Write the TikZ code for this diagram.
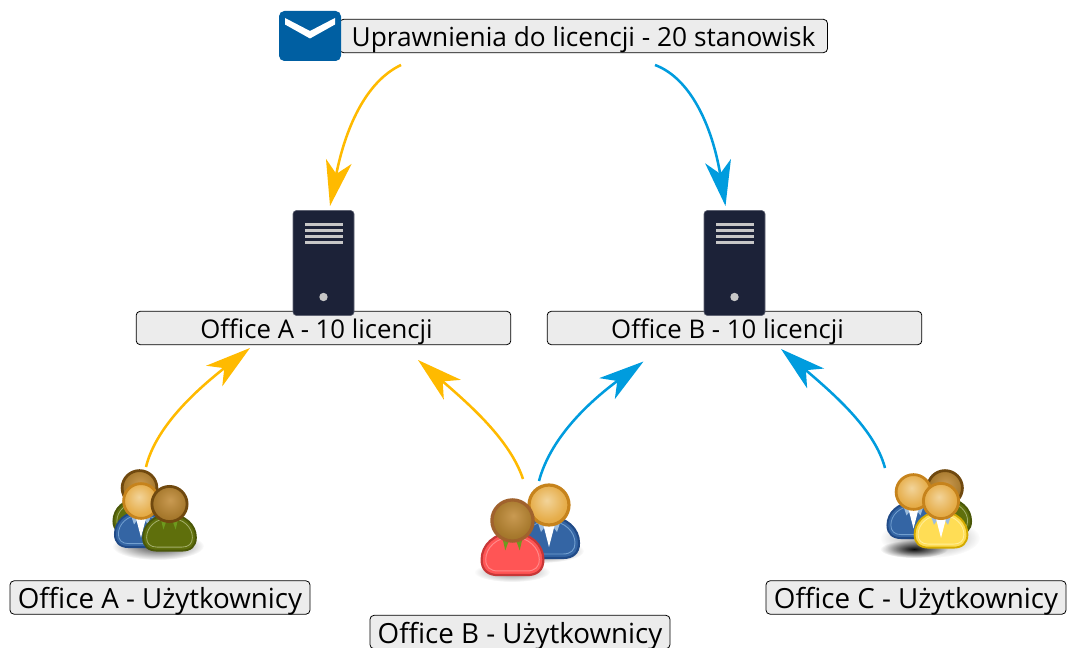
\documentclass[tikz,border=0pt]{standalone}
\usepackage{fontspec}
\setmainfont{Open Sans}
\usetikzlibrary{arrows.meta,fadings}
\definecolor{boxfill}{HTML}{ECECEC}
\definecolor{ayellow}{HTML}{FFBA00}
\definecolor{ablue}{HTML}{009CDE}
\definecolor{srv}{HTML}{1C2238}
\definecolor{mail}{HTML}{005FA2}
\definecolor{bluF}{HTML}{3465A4}\definecolor{bluD}{HTML}{204A87}\definecolor{bluL}{HTML}{729FCF}
\definecolor{oliF}{HTML}{5F6F0C}\definecolor{oliD}{HTML}{4A5708}\definecolor{oliL}{HTML}{A3AE6A}
\definecolor{redF}{HTML}{FF5555}\definecolor{redD}{HTML}{C83737}\definecolor{redL}{HTML}{FF8A8A}
\definecolor{yelF}{HTML}{FFDD55}\definecolor{yelD}{HTML}{D4AA00}\definecolor{yelL}{HTML}{FFEE99}
\definecolor{hoL}{HTML}{F2D49A}\definecolor{hoM}{HTML}{E6AE4C}\definecolor{hoD}{HTML}{D8941F}\definecolor{hoE}{HTML}{C6831C}
\definecolor{hbL}{HTML}{C99A52}\definecolor{hbM}{HTML}{A87A2E}\definecolor{hbD}{HTML}{80581A}\definecolor{hbE}{HTML}{70490F}
\definecolor{hrE}{HTML}{A0622D}
\definecolor{tipG}{HTML}{6E9A1E}
\pgfdeclareradialshading{headO}{\pgfpoint{-3bp}{6bp}}{color(0bp)=(hoL);color(22bp)=(hoM);color(50bp)=(hoD);color(60bp)=(hoD)}
\pgfdeclareradialshading{headB}{\pgfpoint{1bp}{6bp}}{color(0bp)=(hbL);color(22bp)=(hbM);color(50bp)=(hbD);color(60bp)=(hbD)}
\tikzfading[name=shfade,inner color=transparent!0,outer color=transparent!100]
\tikzset{
  x=0.75pt,y=-0.75pt,
  lab/.style={draw=black,line width=0.6pt,fill=boxfill,rounded corners=3pt,minimum height=25pt,inner sep=0pt,text height=20.5pt,text depth=4pt,anchor=center},
  fsmall/.style={font=\fontsize{19.3pt}{22pt}\selectfont},
  ftop/.style={font=\fontsize{19.7pt}{22pt}\selectfont},
  fuser/.style={font=\fontsize{20.8pt}{22pt}\selectfont},
  yl/.style={draw=ayellow,line width=1.9pt,-{Stealth[length=34pt,width=19.5pt,inset=9.5pt]}},
  bl/.style={draw=ablue,line width=1.9pt,-{Stealth[length=34pt,width=19.5pt,inset=9.5pt]}},
  srvbox/.style={fill=srv,draw=srv!70!white,line width=0.4pt,rounded corners=2.5pt},
  slat/.style={fill=black!22!white,draw=none},
  envbox/.style={fill=mail,rounded corners=4pt,draw=none},
  shad/.style={fill=black,path fading=shfade,opacity=#1},
}
\newcommand{\collarW}{%
  \path[fill=bluL!70!white] (-12,15) -- (-8,27) -- (0,16) -- (8,27) -- (12,15) -- cycle;
  \path[fill=white] (-7,15) -- (0,42) -- (7,15) -- cycle;}
\newcommand{\collarG}{%
  \path[fill=tipG] (-10,16) -- (-7,29) -- (-3,18) -- cycle;
  \path[fill=tipG] (10,16) -- (7,29) -- (3,18) -- cycle;}
% \person{x}{y}{scale}{fill}{dark}{light}{headshade}{headdraw}{collar}
\newcommand{\person}[9]{%
  \begin{scope}[shift={(#1,#2)},x=#3*0.75pt,y=-#3*0.75pt]
    \path[fill=#4,draw=#5,line width=#3*1.6pt]
      (-30,38) .. controls (-30,24) and (-18,12) .. (0,12)
      .. controls (18,12) and (30,24) .. (30,38)
      .. controls (30,48) and (24,53) .. (14,53) -- (-14,53)
      .. controls (-24,53) and (-30,48) .. (-30,38) -- cycle;
    \path[draw=#6,line width=#3*0.7pt]
      (-26,38) .. controls (-26,27) and (-16,16) .. (0,16)
      .. controls (16,16) and (26,27) .. (26,38)
      .. controls (26,45) and (22,49) .. (14,49) -- (-14,49)
      .. controls (-22,49) and (-26,45) .. (-26,38) -- cycle;
    #9
    \path[shading=#7,draw=#8,line width=#3*2.4pt] (0,0) circle[radius=20];
  \end{scope}}
\begin{document}
\begin{tikzpicture}
\useasboundingbox (0,0) rectangle (1067,648);
% shadows
\path[shad=0.75] (158,546) ellipse[x radius=46,y radius=14];
\path[shad=0.7] (540,551) ellipse[x radius=44,y radius=12];
\path[shad=0.45] (512,572) ellipse[x radius=38,y radius=10];
\path[shad=0.45] (930,538) ellipse[x radius=50,y radius=20];
\path[shad=0.95] (914,549) ellipse[x radius=34,y radius=9];
% people
\person{139.5}{488}{0.87}{oliF}{oliD}{oliL}{headB}{hbE}{\collarG}
\person{141}{501}{0.87}{bluF}{bluD}{bluL}{headO}{hoE}{\collarW}
\person{169.5}{504}{0.88}{oliF}{oliD}{oliL}{headB}{hbE}{\collarG}
\person{549}{505}{1}{bluF}{bluD}{bluL}{headO}{hoE}{\collarW}
\person{512.5}{520.5}{1.03}{redF}{redD}{redL}{headB}{hrE}{\collarG}
\person{945}{488}{0.87}{oliF}{oliD}{oliL}{headB}{hbE}{\collarG}
\person{913.5}{492}{0.87}{bluF}{bluD}{bluL}{headO}{hoE}{\collarW}
\person{941}{501}{0.88}{yelF}{yelD}{yelL}{headO}{hoE}{\collarW}
% boxes
\node[lab,ftop,minimum width=366pt] (top) at (583.5,36) {Uprawnienia do licencji - 20 stanowisk};
\node[lab,fsmall,minimum width=281pt] (oa) at (323.5,328) {\hspace*{-10.5pt}Office A - 10 licencji};
\node[lab,fsmall,minimum width=281pt] (ob) at (734.5,328) {\hspace*{-10.5pt}Office B - 10 licencji};
\node[lab,fuser,minimum width=225pt] (ua) at (160,597.5) {Office A - Użytkownicy};
\node[lab,fuser,minimum width=225pt] (ub) at (520,632) {Office B - Użytkownicy};
\node[lab,fuser,minimum width=225pt] (uc) at (916,597.5) {Office C - Użytkownicy};
% envelope
\fill[envbox] (279,11) rectangle (341,61);
\fill[white] (285,18) -- (310,31) -- (335,18) -- (335,24.5) -- (310,38.5) -- (285,24.5) -- cycle;
% servers
\foreach \sx in {293,704}{
  \begin{scope}[shift={(\sx,0)}]
    \path[srvbox] (0,210.5) rectangle (61,315.5);
    \foreach \sy in {223,229,235,241} \fill[slat] (12,\sy) rectangle (50,\sy+3.4);
    \fill[slat] (30.5,297) circle[radius=4.2];
  \end{scope}}
% connector ends
\coordinate (t1) at (401,65);
\coordinate (t2) at (655,65);
\coordinate (sa) at (330,206);
\coordinate (sb) at (725.5,206);
\coordinate (u1) at (146,467);
\coordinate (u2) at (523,479);
\coordinate (u3) at (539,481);
\coordinate (u4) at (885,468);
\coordinate (a1) at (250,348);
\coordinate (a2) at (418,360);
\coordinate (b1) at (643.5,361.5);
\coordinate (b2) at (781,349);
\draw[yl] (t1) .. controls (365,82) and (345,130) .. (sa);
\draw[bl] (t2) .. controls (690,78) and (712,125) .. (sb);
\draw[yl] (u1) .. controls (155,430) and (190,395) .. (a1);
\draw[yl] (u2) .. controls (510,440) and (470,405) .. (a2);
\draw[bl] (u3) .. controls (550,440) and (585,405) .. (b1);
\draw[bl] (u4) .. controls (875,430) and (835,395) .. (b2);
\end{tikzpicture}
\end{document}
